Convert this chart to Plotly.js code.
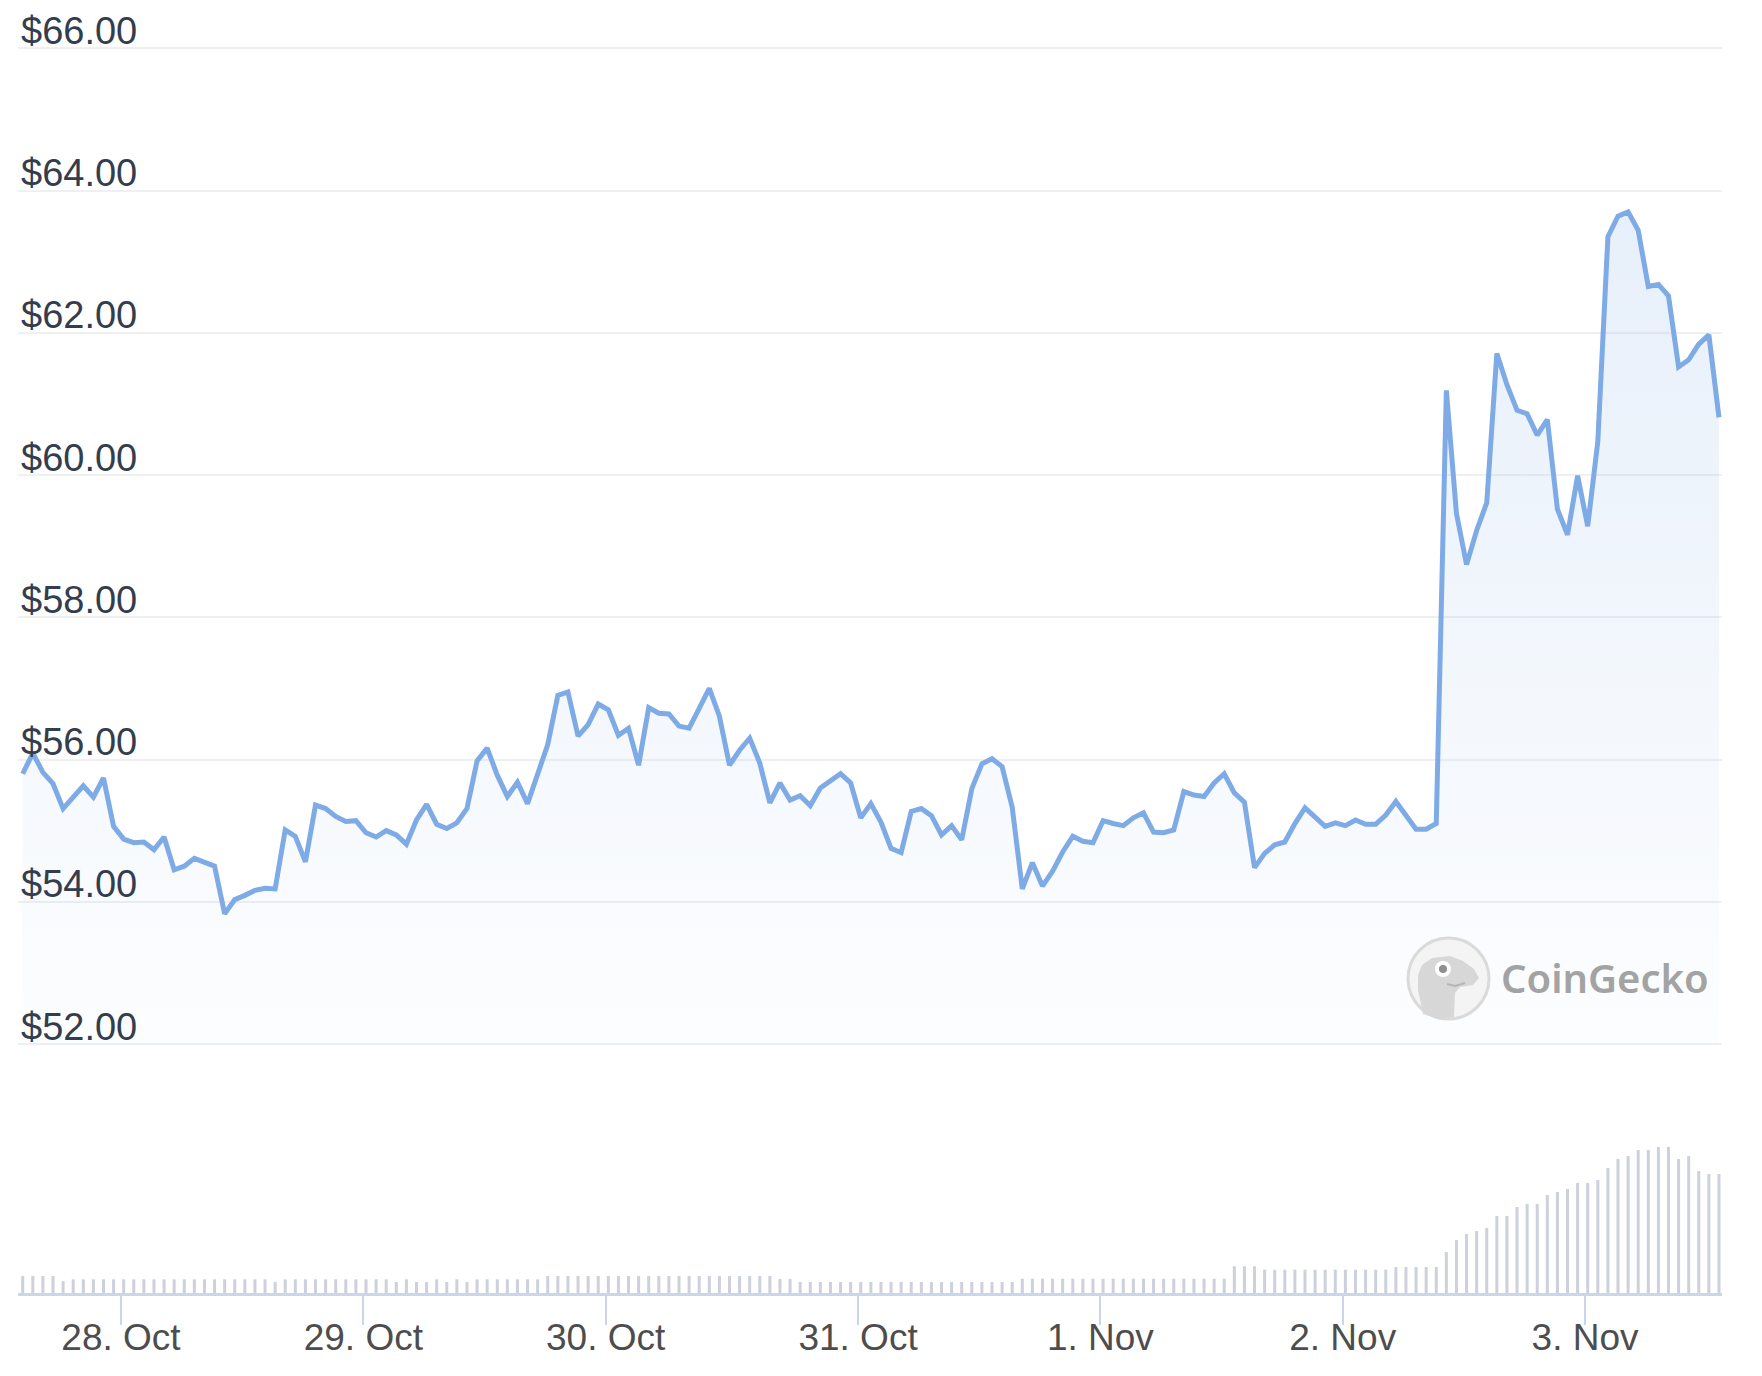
<!DOCTYPE html>
<html>
<head>
<meta charset="utf-8">
<script src="https://cdn.plot.ly/plotly-3.0.1.min.js"></script>
<style>
html,body{margin:0;padding:0;background:#ffffff;}
#chart{width:1762px;height:1376px;}
</style>
</head>
<body>
<div id="chart"></div>
<script>
// ---- data (hourly, first point 27 Oct 2022 12:16 UTC) ----
const startUTC = '2022-10-27T12:16:00Z';

const price = [
  55.80, 56.09, 55.82, 55.66, 55.31, 55.48, 55.63, 55.47, 55.74, 55.06,
  54.88, 54.83, 54.84, 54.73, 54.91, 54.45, 54.50, 54.61, 54.55, 54.50,
  53.83, 54.03, 54.09, 54.16, 54.19, 54.18, 55.01, 54.92, 54.56, 55.36,
  55.31, 55.20, 55.13, 55.14, 54.97, 54.91, 55.00, 54.94, 54.81, 55.15,
  55.37, 55.09, 55.03, 55.11, 55.31, 55.98, 56.16, 55.78, 55.48, 55.68,
  55.38, 55.80, 56.21, 56.90, 56.95, 56.33, 56.49, 56.78, 56.70, 56.34,
  56.44, 55.92, 56.73, 56.65, 56.64, 56.47, 56.44, 56.72, 57.00, 56.61,
  55.92, 56.13, 56.30, 55.95, 55.39, 55.67, 55.43, 55.49, 55.35, 55.60,
  55.70, 55.80, 55.67, 55.18, 55.38, 55.12, 54.75, 54.69, 55.27, 55.31,
  55.21, 54.94, 55.07, 54.87, 55.59, 55.94, 56.01, 55.90, 55.33, 54.18,
  54.55, 54.22, 54.43, 54.70, 54.92, 54.85, 54.83, 55.14, 55.10, 55.07,
  55.18, 55.25, 54.98, 54.97, 55.01, 55.55, 55.50, 55.48, 55.67, 55.80,
  55.53, 55.40, 54.48, 54.68, 54.80, 54.84, 55.10, 55.32, 55.19, 55.06,
  55.11, 55.07, 55.15, 55.09, 55.09, 55.22, 55.41, 55.20, 55.02, 55.02,
  55.10, 61.19, 59.46, 58.74, 59.22, 59.61, 61.71, 61.27, 60.91, 60.86,
  60.56, 60.78, 59.52, 59.16, 59.99, 59.28, 60.47, 63.35, 63.64, 63.70,
  63.44, 62.65, 62.68, 62.52, 61.52, 61.62, 61.84, 61.97, 60.81
];

// relative 24h volume (unlabelled axis in the original)
const volume = [
  17, 17, 17, 17, 12, 13.7, 13.7, 13.7, 13.7, 13.7,
  13.7, 13.7, 13.7, 13.7, 13.7, 13.7, 13.7, 13.7, 13.7, 13.7,
  13.7, 13.7, 13.7, 13.7, 13.7, 11, 13.7, 13.7, 13.7, 13.7,
  13.7, 13.7, 13.7, 13.7, 13.7, 13.7, 13.7, 11, 13.7, 11,
  11, 13.7, 11, 13.7, 11, 13.7, 13.7, 13.7, 13.7, 13.7,
  13.7, 13.7, 17, 17, 17, 17, 17, 17, 17, 17,
  17, 17, 17, 17, 17, 17, 17, 17, 17, 17,
  17, 17, 17, 17, 17, 14, 14, 11, 11, 11,
  11, 11, 11, 11, 11, 11, 11, 11, 11, 11,
  11, 11, 11, 11, 11, 11, 11, 11, 11, 14.3,
  14.3, 14.3, 14.3, 14.3, 14.3, 14.3, 14.3, 14.3, 14.3, 14.3,
  14.3, 14.3, 14.3, 14.3, 14.3, 14.3, 14.3, 14.3, 14.3, 14.3,
  26.7, 26.7, 26.7, 23.3, 23.3, 23.3, 23.3, 23.3, 23.3, 23.3,
  23.3, 23.3, 23.3, 23.3, 23.3, 23.3, 26, 26, 26, 26,
  26, 41, 53, 59, 62, 65, 77, 77, 86, 89,
  89, 98, 101, 104, 110, 110, 113, 125, 134, 137,
  143, 143, 146, 146, 134, 137, 122, 119, 119
];

// local-midnight day ticks (UTC times; DST ends 30 Oct)
const dayTickTimes = ['2022-10-27 22:00', '2022-10-28 22:00', '2022-10-29 22:00',
                      '2022-10-30 23:00', '2022-10-31 23:00', '2022-11-01 23:00', '2022-11-02 23:00'];
const dayTickLabels = ['28. Oct', '29. Oct', '30. Oct', '31. Oct', '1. Nov', '2. Nov', '3. Nov'];
const priceTicks = [52, 54, 56, 58, 60, 62, 64, 66];
const priceTickLabels = priceTicks.map(v => '$' + v.toFixed(2));

// ---- build ----
const t0 = Date.parse(startUTC);
const times = price.map((_, i) => new Date(t0 + i * 3600000).toISOString().slice(0, 19).replace('T', ' '));

const W = 1762, H = 1376;
const M = {l: 18, r: 40, t: 10, b: 83};
const plotW = W - M.l - M.r, plotH = H - M.t - M.b;
const px = x => (x - M.l) / plotW;
const py = y => (H - M.b - y) / plotH;
const xRange = ['2022-10-27 11:48', '2022-11-03 12:34'];

const priceTrace = {
  type: 'scatter', mode: 'lines', x: times, y: price,
  xaxis: 'x', yaxis: 'y',
  line: {color: '#7eabe6', width: 5},
  fill: 'tozeroy',
  fillgradient: {
    type: 'vertical', start: 52, stop: 64,
    colorscale: [[0, 'rgba(126,171,230,0.02)'], [1, 'rgba(126,171,230,0.19)']]
  },
  hoverinfo: 'skip'
};

const volTrace = {
  type: 'bar', x: times, y: volume,
  xaxis: 'x', yaxis: 'y2',
  width: 3600000 * 0.3,
  marker: {color: '#cdd1dc', line: {width: 0}},
  hoverinfo: 'skip'
};

// invisible helper so the label axis (x3) is drawn
const labelAxisHelper = {
  type: 'scatter', mode: 'markers', x: dayTickTimes, y: dayTickTimes.map(() => 0),
  xaxis: 'x3', yaxis: 'y2',
  marker: {opacity: 0, size: 1},
  hoverinfo: 'skip'
};

// watermark logo (decorative)
function pathFrom(pts, close) {
  return pts.map((p, i) => (i ? 'L' : 'M') + px(p[0]).toFixed(5) + ',' + py(p[1]).toFixed(5)).join(' ') + (close ? ' Z' : '');
}
const geckoBody = [[1423,1014],[1418,990],[1418,975],[1422,965],[1432,958],[1450,956],[1463,961],
  [1474,969],[1479,978],[1473,985],[1460,987],[1455,993],[1454,1017],[1440,1019]];
const shapes = [
  {type: 'circle', xref: 'paper', yref: 'paper', x0: px(1408), x1: px(1489), y0: py(1019), y1: py(938),
   line: {color: '#dadada', width: 3}, fillcolor: '#f4f4f4', layer: 'above'},
  {type: 'path', xref: 'paper', yref: 'paper', path: pathFrom(geckoBody, true),
   line: {width: 0}, fillcolor: '#d7d7d7', layer: 'above'},
  {type: 'circle', xref: 'paper', yref: 'paper', x0: px(1435), x1: px(1451), y0: py(977), y1: py(961),
   line: {width: 0}, fillcolor: '#ffffff', layer: 'above'},
  {type: 'circle', xref: 'paper', yref: 'paper', x0: px(1439), x1: px(1447), y0: py(973), y1: py(965),
   line: {width: 0}, fillcolor: '#8f8f8f', layer: 'above'},
  {type: 'path', xref: 'paper', yref: 'paper', path: pathFrom([[1447,984],[1455,986],[1465,983]], false),
   line: {color: '#b5b5b5', width: 2}, layer: 'above'}
];

const tickFontX = {size: 37, color: '#4d4d4d', family: 'Liberation Sans, Arial, sans-serif'};

const layout = {
  width: W, height: H,
  margin: M,
  paper_bgcolor: '#ffffff', plot_bgcolor: '#ffffff',
  showlegend: false,
  hovermode: false,
  font: {family: 'Liberation Sans, Arial, sans-serif'},
  xaxis: {
    type: 'date', anchor: 'y2',
    range: xRange,
    tickmode: 'array', tickvals: dayTickTimes, ticktext: dayTickLabels,
    ticks: 'outside', ticklen: 29, tickwidth: 2, tickcolor: '#ccd6eb',
    showticklabels: false,
    showline: true, linecolor: '#ccd6eb', linewidth: 3,
    showgrid: false, zeroline: false
  },
  xaxis3: {
    type: 'date', overlaying: 'x', anchor: 'y2',
    range: xRange,
    tickmode: 'array', tickvals: dayTickTimes, ticktext: dayTickLabels,
    ticks: '', showline: false, showgrid: false, zeroline: false,
    ticklabelstandoff: 19,
    tickfont: tickFontX
  },
  yaxis: {
    domain: [py(1046), 1],
    range: [52 - 2 / 71.12, 66.5385],
    tickmode: 'array', tickvals: priceTicks, ticktext: priceTickLabels,
    ticklabelposition: 'inside top', ticklabeloverflow: 'allow',
    ticklabelshift: 9,
    ticks: '', showline: false, zeroline: false,
    showgrid: true, gridcolor: '#eef0f3', gridwidth: 2,
    tickfont: {size: 38, color: '#333d4e', family: 'Liberation Sans, Arial, sans-serif'}
  },
  yaxis2: {
    domain: [0, py(1100)],
    range: [0, 193],
    showticklabels: false, showgrid: false, zeroline: false, showline: false, ticks: ''
  },
  shapes: shapes,
  annotations: [{
    xref: 'paper', yref: 'paper', x: px(1605), y: py(977),
    xanchor: 'center', yanchor: 'middle', showarrow: false,
    text: 'CoinGecko',
    font: {family: 'Noto Sans, Liberation Sans, sans-serif', size: 40, color: '#a3a3a3', weight: 600}
  }]
};

Plotly.newPlot('chart', [priceTrace, volTrace, labelAxisHelper], layout, {displayModeBar: false, staticPlot: true});
</script>
</body>
</html>
